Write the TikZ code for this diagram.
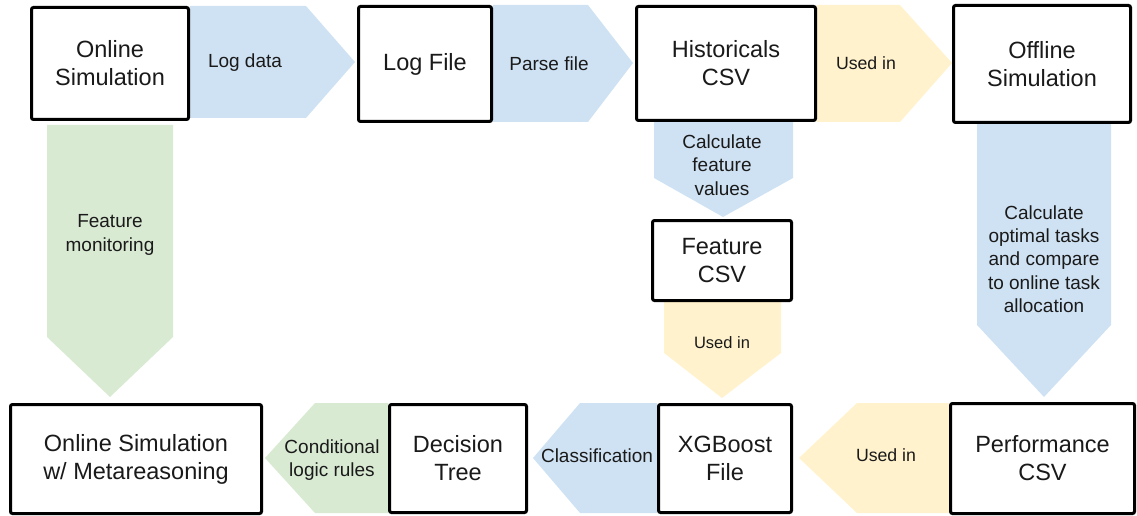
\documentclass[tikz,border=0pt]{standalone}
\usepackage{fontspec}
\setmainfont{Liberation Sans}
\usetikzlibrary{backgrounds}
\definecolor{flowblue}{HTML}{CFE2F3}
\definecolor{flowyellow}{HTML}{FFF2CC}
\definecolor{flowgreen}{HTML}{D9EAD3}
\definecolor{inktext}{HTML}{1A1A1A}
\tikzset{
  stagebox/.style={draw=black, line width=3pt, rounded corners=2pt, fill=white,
    inner sep=0pt, align=center, text=inktext,
    font=\fontsize{23.5}{28}\selectfont},
  flowlabel/.style={inner sep=0pt, align=center, text=inktext,
    font=\fontsize{19}{23.3}\selectfont},
  smalllabel/.style={flowlabel, font=\fontsize{17.7}{21}\selectfont},
}
\begin{document}
\begin{tikzpicture}[x=1pt,y=-1pt]
\useasboundingbox (0,0) rectangle (1137,516);

% stages
\node[stagebox, minimum width=157pt, minimum height=112pt] (os)  at (110,63.5)  {Online\\Simulation};
\node[stagebox, minimum width=133pt, minimum height=115pt] (lf)  at (425,64)    {Log File};
\node[stagebox, minimum width=179pt, minimum height=114pt] (hc)  at (726,63.5)  {Historicals\\CSV};
\node[stagebox, minimum width=177pt, minimum height=117pt] (off) at (1042,64)   {Offline\\Simulation};
\node[stagebox, minimum width=139pt, minimum height=80pt]  (fc)  at (722,260.5) {Feature\\CSV};
\node[stagebox, minimum width=251pt, minimum height=109pt] (osm) at (136,459)   {Online Simulation\\w/ Metareasoning};
\node[stagebox, minimum width=137pt, minimum height=108pt] (dt)  at (458,458.5) {Decision\\Tree};
\node[stagebox, minimum width=133pt, minimum height=108pt] (xg)  at (725,458.5) {XGBoost\\File};
\node[stagebox, minimum width=184pt, minimum height=110pt] (pc)  at (1042.5,458.5) {Performance\\CSV};

% chevron connectors between the stages
\begin{pgfonlayer}{background}
\fill[flowblue]   (190,6) -- (306,6) -- (355,62) -- (306,118) -- (190,118) -- cycle;
\fill[flowblue]   (493,5) -- (588,5) -- (633,63) -- (588,122) -- (493,122) -- cycle;
\fill[flowyellow] (817,5) -- (900,5) -- (952,63) -- (900,122) -- (817,122) -- cycle;
\fill[flowgreen]  (47,125) -- (173,125) -- (173,337) -- (110,397) -- (47,337) -- cycle;
\fill[flowblue]   (654,122) -- (793,122) -- (793,178) -- (723,217) -- (654,178) -- cycle;
\fill[flowyellow] (664,302) -- (781,302) -- (781,353) -- (722,398) -- (664,353) -- cycle;
\fill[flowblue]   (977,124) -- (1111,124) -- (1111,325) -- (1044,397) -- (977,325) -- cycle;
\fill[flowyellow] (949,403) -- (857,403) -- (799,458) -- (857,513) -- (949,513) -- cycle;
\fill[flowblue]   (657,403) -- (580,403) -- (533,458) -- (580,513) -- (657,513) -- cycle;
\fill[flowgreen]  (388,403) -- (315,403) -- (265,458) -- (315,513) -- (388,513) -- cycle;
\end{pgfonlayer}

% connector labels
\node[flowlabel]  (l1)  at (245,63)   {Log data};
\node[flowlabel]  (l2)  at (549,64)   {Parse file};
\node[smalllabel] (l3)  at (866,63)   {Used in};
\node[flowlabel]  (l4)  at (110,235)  {Feature\\monitoring};
\node[flowlabel]  (l5)  at (722,165)  {Calculate\\feature\\values};
\node[smalllabel, font=\fontsize{16.5}{20}\selectfont] (l6) at (722,343) {Used in};
\node[flowlabel]  (l7)  at (1044,259) {Calculate\\optimal tasks\\and compare\\to online task\\allocation};
\node[smalllabel] (l8)  at (886,455)  {Used in};
\node[flowlabel]  (l9)  at (597,456)  {Classification};
\node[flowlabel]  (l10) at (332,460)  {Conditional\\logic rules};
\end{tikzpicture}
\end{document}
